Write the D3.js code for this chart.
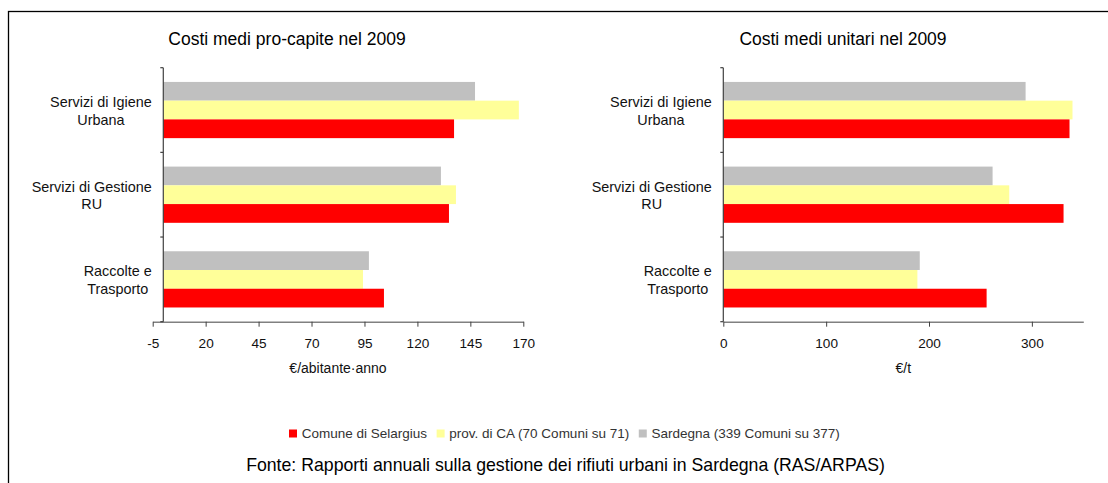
<!DOCTYPE html>
<html>
<head>
<meta charset="utf-8">
<script src="https://cdn.jsdelivr.net/npm/d3@7"></script>
<style>
  html, body { margin: 0; padding: 0; background: #fff; }
  svg { display: block; font-family: "Liberation Sans", Arial, Helvetica, sans-serif; }
</style>
</head>
<body>
<svg id="chart" width="1108" height="483"></svg>
<script>
// ---------------- DATA ----------------
const categories = [["Servizi di Igiene", "Urbana"], ["Servizi di Gestione", "RU"], ["Raccolte e", "Trasporto"]];
const seriesNames = ["Sardegna (339 Comuni su 377)", "prov. di CA (70 Comuni su 71)", "Comune di Selargius"];
const legendOrder = ["Comune di Selargius", "prov. di CA (70 Comuni su 71)", "Sardegna (339 Comuni su 377)"];

// Costi medi pro-capite (€/abitante·anno)
const proCapiteSardegna = [147.2, 131.1, 97.1];
const proCapiteProvCA   = [167.9, 138.2, 94.3];
const proCapiteComune   = [137.3, 134.9, 104.2];

// Costi medi unitari (€/t)
const unitariSardegna = [293.9, 261.8, 191.0];
const unitariProvCA   = [339.5, 278.0, 188.7];
const unitariComune   = [336.6, 330.8, 256.0];

const leftTicks  = [-5, 20, 45, 70, 95, 120, 145, 170];
const rightTicks = [0, 100, 200, 300];
const leftDomain = [-5, 170];
const rightDomain = [0, 350];

const titles = ["Costi medi pro-capite nel 2009", "Costi medi unitari nel 2009"];
const axisTitles = ["€/abitante·anno", "€/t"];
const sourceText = "Fonte: Rapporti annuali sulla gestione dei rifiuti urbani in Sardegna (RAS/ARPAS)";

// ---------------- STYLE ----------------
const colors = {
  "Comune di Selargius": "#FF0000",
  "prov. di CA (70 Comuni su 71)": "#FFFF99",
  "Sardegna (339 Comuni su 377)": "#C0C0C0"
};

const svg = d3.select("#chart");

// frame
svg.append("rect")
  .attr("x", 8.5).attr("y", 11.5)
  .attr("width", 1300).attr("height", 700)
  .attr("fill", "none").attr("stroke", "#000").attr("stroke-width", 1.3);

const catKeys = categories.map(c => c.join(" "));

function drawPanel(cfg) {
  const g = svg.append("g");
  const y = d3.scaleBand().domain(catKeys).range([cfg.top, cfg.bottom]);
  const inset = y.bandwidth() * 0.168;
  const ys = d3.scaleBand().domain(seriesNames).range([inset, y.bandwidth() - inset]);
  const x = d3.scaleLinear().domain(cfg.domain).range([cfg.left, cfg.right]);
  const x0 = x(0);

  // bars
  const seriesVals = [cfg.sard, cfg.prov, cfg.com];
  seriesNames.forEach((s, si) => {
    g.selectAll(null).data(seriesVals[si]).enter().append("rect")
      .attr("x", x0)
      .attr("y", (d, i) => y(catKeys[i]) + ys(s))
      .attr("width", d => x(d) - x0)
      .attr("height", ys.bandwidth())
      .attr("fill", colors[s]);
  });

  // x axis
  const xa = g.append("g")
    .attr("transform", `translate(0,${cfg.bottom})`)
    .call(d3.axisBottom(x).tickValues(cfg.ticks).tickSize(5).tickSizeOuter(0).tickPadding(11.5).tickFormat(d => String(d)));
  xa.select(".domain").attr("stroke", "#808080").attr("stroke-width", 1.6);
  xa.selectAll(".tick line").attr("stroke", "#404040").attr("stroke-width", 1);
  xa.selectAll(".tick text").attr("font-size", "13.6px").attr("fill", "#111")
    .attr("font-family", '"Liberation Sans", Arial, sans-serif');

  // y axis (line + boundary ticks)
  const ya = g.append("g");
  ya.append("line").attr("x1", x0).attr("x2", x0)
    .attr("y1", cfg.top).attr("y2", cfg.bottom)
    .attr("stroke", "#404040").attr("stroke-width", 1.2);
  const bounds = catKeys.map(k => y(k)).concat([y.range()[1]]);
  ya.selectAll(null).data(bounds).enter().append("line")
    .attr("x1", x0 - 3).attr("x2", x0)
    .attr("y1", d => d).attr("y2", d => d)
    .attr("stroke", "#404040").attr("stroke-width", 1.2);

  // category labels
  categories.forEach((lines, i) => {
    const cy = y(catKeys[i]) + y.bandwidth() / 2;
    const t = g.append("text").attr("font-size", "14.4px").attr("fill", "#111").attr("text-anchor", "middle");
    const spans = lines.map((ln, li) => t.append("tspan").attr("y", cy - 3 + li * 17.6).text(ln));
    const maxW = d3.max(spans, s => s.node().getComputedTextLength());
    const cx = x0 - 11.6 - maxW / 2;
    spans.forEach(s => s.attr("x", cx));
  });

  // title
  g.append("text").attr("x", cfg.titleX).attr("y", 44.5)
    .attr("text-anchor", "middle").attr("font-size", "17.5px").attr("fill", "#000")
    .text(cfg.title);

  // axis title
  g.append("text").attr("x", (cfg.left + cfg.right) / 2).attr("y", 373)
    .attr("text-anchor", "middle").attr("font-size", "14px").attr("fill", "#111")
    .text(cfg.axisTitle);
}

drawPanel({
  top: 67.7, bottom: 321.7, left: 152.7, right: 523.3, domain: leftDomain, ticks: leftTicks,
  sard: proCapiteSardegna, prov: proCapiteProvCA, com: proCapiteComune,
  title: titles[0], titleX: 287, axisTitle: axisTitles[0]
});
drawPanel({
  top: 67.7, bottom: 321.7, left: 723.3, right: 1083.3, domain: rightDomain, ticks: rightTicks,
  sard: unitariSardegna, prov: unitariProvCA, com: unitariComune,
  title: titles[1], titleX: 843, axisTitle: axisTitles[1]
});

// legend
const lg = svg.append("g");
let lx = 289;
legendOrder.forEach(name => {
  lg.append("rect").attr("x", lx).attr("y", 429.5).attr("width", 8).attr("height", 8).attr("fill", colors[name]);
  const t = lg.append("text").attr("x", lx + 12.7).attr("y", 438)
    .attr("font-size", "13.5px").attr("fill", "#333").text(name);
  lx = lx + 12.7 + t.node().getComputedTextLength() + 9.6;
});

// source
svg.append("text").attr("x", 565.5).attr("y", 470.5)
  .attr("text-anchor", "middle").attr("font-size", "17.7px").attr("fill", "#000")
  .text(sourceText);
</script>
</body>
</html>
